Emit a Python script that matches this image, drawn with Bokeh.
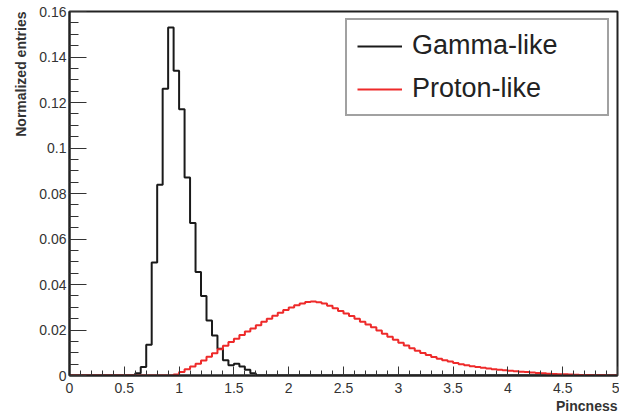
import numpy as np
from bokeh.plotting import figure
from bokeh.models import (SingleIntervalTicker, CustomJSTickFormatter, Title,
                          Range1d, Legend, LegendItem)
from bokeh.embed import file_html
from bokeh.resources import INLINE

# ---------------- data ----------------
n_bins = 100
bin_edges = [round(i * 0.05, 2) for i in range(n_bins + 1)]  # 0 .. 5, width 0.05

gamma_start_bin = 12  # first non-empty bin starts at 0.60
gamma_vals = [0.0010, 0.0037, 0.0135, 0.0497, 0.0839, 0.1260, 0.1530, 0.1340,
              0.1170, 0.0870, 0.0670, 0.0455, 0.0350, 0.0242, 0.0176, 0.0118,
              0.0067, 0.0045, 0.0052, 0.0040, 0.0025, 0.0010]

proton_start_bin = 19  # first non-empty bin starts at 0.95
proton_vals = [0.0004, 0.0015, 0.0027, 0.0040, 0.0052, 0.0066, 0.0082, 0.0098,
               0.0115, 0.0131, 0.0147, 0.0162, 0.0178, 0.0193, 0.0207, 0.0221,
               0.0236, 0.0250, 0.0263, 0.0276, 0.0288, 0.0299, 0.0309, 0.0317,
               0.0323, 0.0325, 0.0322, 0.0316, 0.0307, 0.0296, 0.0284, 0.0272,
               0.0261, 0.0249, 0.0236, 0.0224, 0.0212, 0.0198, 0.0184, 0.0170,
               0.0157, 0.0144, 0.0132, 0.0120, 0.0109, 0.0099, 0.0090, 0.0081,
               0.0074, 0.0067, 0.0061, 0.0055, 0.0050, 0.0045, 0.0041, 0.0037,
               0.0034, 0.0031, 0.0028, 0.0025, 0.0023, 0.0021, 0.0019, 0.0017,
               0.0015, 0.0013, 0.0011, 0.0010, 0.0008, 0.0007, 0.0006, 0.0005,
               0.0004, 0.0003, 0.0002, 0.0002, 0.0001, 0.0001, 0.0001]

series_labels = ["Gamma-like", "Proton-like"]
x_title = "Pincness"
y_title = "Normalized entries"


def full_hist(start, vals):
    h = [0.0] * start + list(vals)
    h = h + [0.0] * (n_bins - len(h))
    return h[:n_bins]


gamma = full_hist(gamma_start_bin, gamma_vals)
proton = full_hist(proton_start_bin, proton_vals)

FONT = "Liberation Sans"

p = figure(width=619, height=413, output_backend="svg", toolbar_location=None,
           x_range=Range1d(0, 5), y_range=Range1d(0, 0.16),
           min_border_left=69, min_border_right=2, min_border_top=11,
           min_border_bottom=36)
p.title.visible = False
p.background_fill_color = "white"
p.border_fill_color = "white"
p.xgrid.visible = False
p.ygrid.visible = False
p.outline_line_color = "#222222"
p.outline_line_width = 2

fmt = CustomJSTickFormatter(code="return (Math.round(tick*1000)/1000).toString();")
p.xaxis.ticker = SingleIntervalTicker(interval=0.5, num_minor_ticks=5)
p.yaxis.ticker = SingleIntervalTicker(interval=0.02, num_minor_ticks=4)
for ax in (p.xaxis, p.yaxis):
    ax.formatter = fmt
    ax.major_tick_out = 0
    ax.minor_tick_out = 0
    ax.axis_line_color = "#222222"
    ax.axis_line_width = 2
    ax.major_tick_line_color = "#333333"
    ax.minor_tick_line_color = "#333333"
    ax.major_label_text_font = FONT
    ax.major_label_text_font_size = "14px"
    ax.major_label_text_color = "#333333"
p.xaxis.major_tick_in = 9
p.xaxis.minor_tick_in = 5
p.xaxis.major_label_standoff = 7
p.yaxis.major_tick_in = 17
p.yaxis.minor_tick_in = 9
p.yaxis.major_label_standoff = 3

r_g = p.step(x=bin_edges, y=gamma + [gamma[-1]], mode="after",
             line_color="#1a1a1a", line_width=2)
r_p = p.step(x=bin_edges, y=proton + [proton[-1]], mode="after",
             line_color="#ee2a2a", line_width=2)

legend = Legend(items=[LegendItem(label=series_labels[0], renderers=[r_g]),
                       LegendItem(label=series_labels[1], renderers=[r_p])],
                location=(276, 259), orientation="vertical", margin=0,
                padding=10, spacing=12, glyph_width=45, glyph_height=30,
                label_height=30, label_width=185, label_standoff=10,
                label_text_font=FONT, label_text_font_size="27px",
                label_text_color="#222222",
                border_line_color="#444444", border_line_width=2,
                background_fill_color="white", background_fill_alpha=1.0)
p.add_layout(legend)

p.add_layout(Title(text=y_title, align="right", text_font=FONT,
                   text_font_style="bold", text_font_size="14px",
                   text_color="#333333", standoff=15, offset=0), "left")
p.add_layout(Title(text=x_title, align="right", text_font=FONT,
                   text_font_style="bold", text_font_size="14px",
                   text_color="#333333", standoff=0, offset=0), "below")

open("out.html", "w").write(file_html(p, INLINE))
